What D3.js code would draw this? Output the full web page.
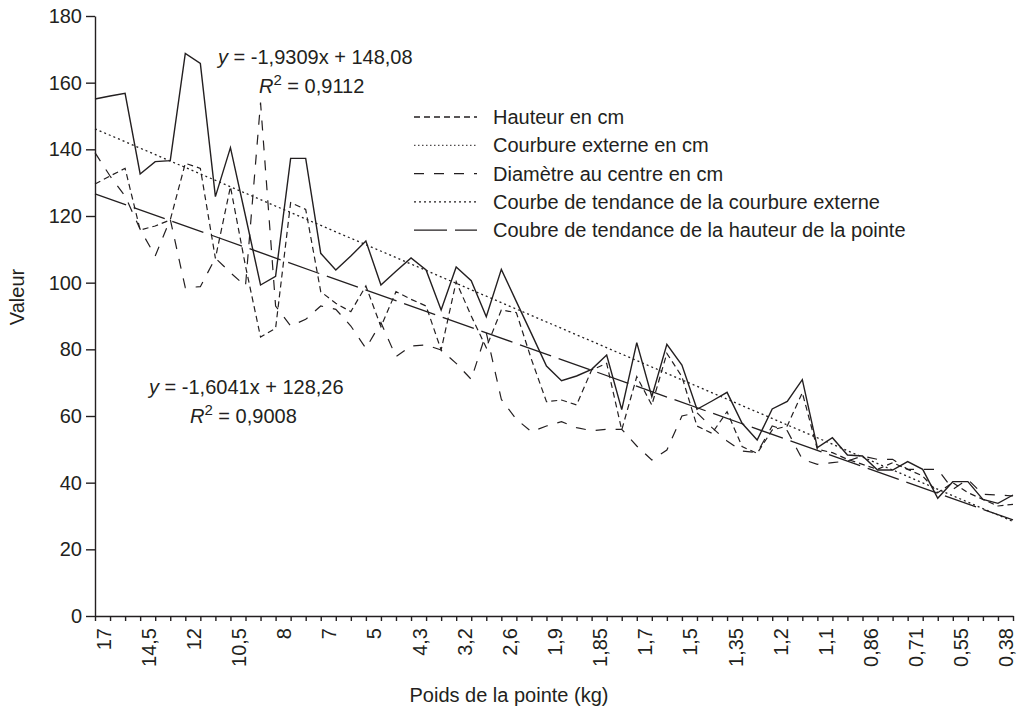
<!DOCTYPE html>
<html>
<head>
<meta charset="utf-8">
<script src="https://cdn.jsdelivr.net/npm/d3@7"></script>
<style>
  body { margin: 0; background: #fff; }
  svg text { font-family: "Liberation Sans", Arial, sans-serif; fill: #231f20; }
</style>
</head>
<body>
<svg id="chart" width="1020" height="708"></svg>
<script>
// poids de la pointe (kg), one label every 3 categories
const poids = ["17", "14,5", "12", "10,5", "8", "7", "5", "4,3", "3,2", "2,6", "1,9",
    "1,85", "1,7", "1,5", "1,35", "1,2", "1,1", "0,86", "0,71", "0,55", "0,38"];

const courbure = [155.1, 156, 156.8, 132.6, 136.3, 136.6, 168.8, 165.8, 125.8, 140.5,
    120, 99.3, 101.9, 137.3, 137.3, 108.8, 103.8, 108, 112.5, 99.3,
    103.4, 107.4, 103.8, 91.8, 104.7, 100.6, 89.8, 104, 94.3, 84.7,
    75, 70.6, 72, 74, 78.3, 61.9, 82, 65.8, 81.5, 75.3,
    62, 64.5, 67.1, 57.8, 52.8, 62.1, 64.4, 70.9, 50.5, 53.5,
    48.3, 48, 43.8, 43.8, 46.3, 44, 35.3, 40.3, 40.3, 35, 33.8, 36.3];

const hauteur = [129.6, 132, 134.3, 115.8, 117, 118.8, 135.8, 134.3, 107.3, 128.8,
    105, 83.7, 86.3, 124, 122, 97.3, 93.8, 91.3, 99, 86.8,
    97.3, 95, 93, 79.8, 100.3, 90, 80.5, 91.8, 91, 77,
    64.3, 64.8, 63.3, 73.8, 75.8, 55.8, 71.8, 63.3, 78.8, 71.8,
    57, 54.8, 61.3, 50.8, 48.8, 55.8, 57, 67, 50, 49,
    47, 45.5, 44, 46, 44, 42, 37, 40, 37, 35, 33, 33.5];

const diametre = [139, 132, 126, 116, 108, 119, 98.5, 98.8, 107.4, 103,
    99, 154, 93, 87, 89, 93, 92, 87, 80.3, 88,
    77.8, 81, 81.3, 79.8, 75.8, 71, 85, 65, 59, 55.3,
    57, 58.3, 56.5, 55.6, 56, 56, 51, 46.8, 49.8, 60,
    61, 56.5, 52.5, 49.5, 49, 57, 55.6, 47, 45.5, 46,
    46.5, 48, 47, 47, 44, 44, 44, 38, 41, 36.5, 36.3, 36];

// courbes de tendance : y = pente * x + origine, x = 1..62
const pente = [-1.9309, -1.6041];
const origine = [148.08, 128.26];
const r2 = ["0,9112", "0,9008"];

const legendLabels = ["Hauteur en cm", "Courbure externe en cm", "Diamètre au centre en cm",
    "Courbe de tendance de la courbure externe", "Coubre de tendance de la hauteur de la pointe"];
const legendDash = ["6,4", "1.5,2.5", "10,10", "2,3", "33,8"];

const svg = d3.select('#chart');
const ink = '#231f20';

const x = d3.scaleLinear().domain([0, courbure.length - 1]).range([95, 1013]);
const y = d3.scaleLinear().domain([0, 180]).range([616, 16]);

// axes
const yAxis = svg.append('g')
    .attr('transform', 'translate(95,0)')
    .call(d3.axisLeft(y).tickValues(d3.range(0, 181, 20)).tickSize(9).tickSizeOuter(0).tickPadding(4));

const xAxis = svg.append('g')
    .attr('transform', 'translate(0,616)')
    .call(d3.axisBottom(x).tickValues(d3.range(courbure.length)).tickSize(5).tickSizeOuter(0)
        .tickFormat(i => i % 3 === 0 ? poids[i / 3] : ''));

[yAxis, xAxis].forEach(g => {
    g.selectAll('path, line').attr('stroke', ink).attr('stroke-width', 1.4);
    g.selectAll('text').attr('font-size', 20).attr('fill', ink);
});

xAxis.selectAll('text')
    .attr('transform', 'rotate(-90)')
    .attr('x', -12)
    .attr('y', 15)
    .attr('dy', 0)
    .style('text-anchor', 'end');

svg.append('text')
    .attr('transform', 'translate(24,297) rotate(-90)')
    .attr('text-anchor', 'middle')
    .attr('font-size', 20)
    .text('Valeur');

svg.append('text')
    .attr('x', 509)
    .attr('y', 702)
    .attr('text-anchor', 'middle')
    .attr('font-size', 20)
    .text('Poids de la pointe (kg)');

// series
const line = d3.line().x((d, i) => x(i)).y(d => y(d));

const series = [
    { values: hauteur, dash: legendDash[0], width: 1.2 },
    { values: diametre, dash: legendDash[2], width: 1.2 },
    { values: courbure, dash: null, width: 1.4 }
];

svg.selectAll('path.serie')
    .data(series)
    .enter()
    .append('path')
    .attr('class', 'serie')
    .attr('d', d => line(d.values))
    .attr('fill', 'none')
    .attr('stroke', ink)
    .attr('stroke-width', d => d.width)
    .attr('stroke-dasharray', d => d.dash);

// trend lines
const trends = [
    { k: 0, dash: legendDash[3], width: 1.3 },
    { k: 1, dash: legendDash[4], width: 1.3 }
];

svg.selectAll('line.trend')
    .data(trends)
    .enter()
    .append('line')
    .attr('class', 'trend')
    .attr('x1', x(0))
    .attr('x2', x(courbure.length - 1))
    .attr('y1', d => y(pente[d.k] * 1 + origine[d.k]))
    .attr('y2', d => y(pente[d.k] * courbure.length + origine[d.k]))
    .attr('stroke', ink)
    .attr('stroke-width', d => d.width)
    .attr('stroke-dasharray', d => d.dash);

// equations
const fmt = v => String(v).replace('.', ',');
const eqPos = [[218, 63.5, 259, 93], [149, 393.5, 190, 422.7]];

eqPos.forEach((p, k) => {
    const t1 = svg.append('text').attr('x', p[0]).attr('y', p[1]).attr('font-size', 20);
    t1.append('tspan').attr('font-style', 'italic').text('y');
    t1.append('tspan').text(' = ' + fmt(pente[k]) + 'x + ' + fmt(origine[k]));

    const t2 = svg.append('text').attr('x', p[2]).attr('y', p[3]).attr('font-size', 20);
    t2.append('tspan').attr('font-style', 'italic').text('R');
    t2.append('tspan').attr('font-size', 15).attr('dy', -8).text('2');
    t2.append('tspan').attr('dy', 8).text(' = ' + r2[k]);
});

// legend
const legend = svg.selectAll('g.legend')
    .data(legendLabels)
    .enter()
    .append('g')
    .attr('class', 'legend')
    .attr('transform', (d, i) => `translate(0,${117 + i * 28.3})`);

legend.append('line')
    .attr('x1', 414)
    .attr('x2', 477)
    .attr('stroke', ink)
    .attr('stroke-width', (d, i) => i === 1 ? 1 : 1.3)
    .attr('stroke-dasharray', (d, i) => legendDash[i]);

legend.append('text')
    .attr('x', 493)
    .attr('dy', '0.35em')
    .attr('font-size', 20)
    .text(d => d);
</script>
</body>
</html>
